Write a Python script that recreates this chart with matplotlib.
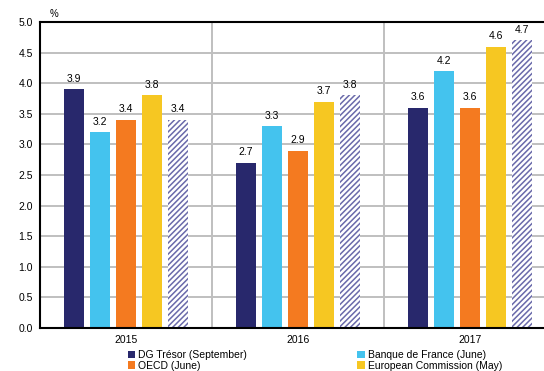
import numpy as np
import matplotlib.pyplot as plt

years = ['2015', '2016', '2017']
dg_tresor = [3.9, 2.7, 3.6]
banque_france = [3.2, 3.3, 4.2]
oecd = [3.4, 2.9, 3.6]
commission = [3.8, 3.7, 4.6]
consensus = [3.4, 3.8, 4.7]

series = [
    ('DG Trésor (September)', dg_tresor, '#28286C'),
    ('Banque de France (June)', banque_france, '#44C3EE'),
    ('OECD (June)', oecd, '#F47A20'),
    ('European Commission (May)', commission, '#F6C722'),
]

plt.rcParams['font.family'] = ['Liberation Sans', 'DejaVu Sans']
plt.rcParams['hatch.linewidth'] = 1.1

fig = plt.figure(figsize=(5.44, 3.71), dpi=100)
ax = fig.add_axes([0.0735, 0.116, 1.022 - 0.0735, 0.8245])

x = np.arange(len(years))
width = 0.118
step = 0.151

# gray grid behind the bars
for yv in np.arange(0.5, 5.0, 0.5):
    ax.axhline(yv, color='#BFBFBF', lw=1.4, zorder=0)
for xv in [0.5, 1.5]:
    ax.axvline(xv, color='#BFBFBF', lw=1.4, zorder=0)

bars = []
for i, (name, vals, col) in enumerate(series):
    b = ax.bar(x + (i - 2) * step, vals, width, color=col, label=name, zorder=2)
    bars.append(b)
hb = ax.bar(x + 2 * step, consensus, width, color='white', edgecolor='#6A6AAA',
            hatch='//////', linewidth=0, zorder=2)
bars.append(hb)

for b in bars:
    for rect in b:
        h = rect.get_height()
        ax.text(rect.get_x() + rect.get_width() / 2, h + 0.09, f'{h:.1f}',
                ha='center', va='bottom', fontsize=7.5, zorder=3)

ax.set_xlim(-0.5, 2.5)
ax.set_ylim(0, 5.0)
ax.set_yticks(np.arange(0, 5.01, 0.5))
ax.set_yticklabels([f'{v:.1f}' for v in np.arange(0, 5.01, 0.5)], fontsize=7.5)
ax.set_xticks(x)
ax.set_xticklabels(years, fontsize=7.5)
ax.tick_params(length=0, pad=5)
for s in ax.spines.values():
    s.set_linewidth(1.5)
    s.set_color('black')

fig.text(0.092, 0.95, '%', fontsize=7, ha='left', va='bottom')

# legend filled row by row
order = [0, 2, 1, 3]
handles = [bars[k] for k in order]
labels = [series[k][0] for k in order]
ax.legend(handles, labels, ncol=2, loc='upper left', bbox_to_anchor=(0.17, -0.072),
          frameon=False, fontsize=7.5, handlelength=0.7, handleheight=0.7,
          handletextpad=0.3, columnspacing=10.6, labelspacing=0.05,
          borderpad=0, borderaxespad=0)

fig.savefig('out.png', dpi=100)
